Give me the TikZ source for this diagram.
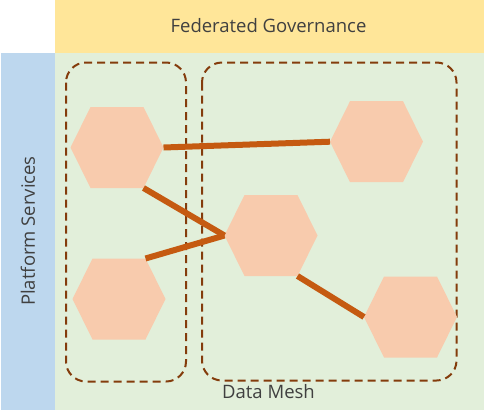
\documentclass[tikz,border=0pt]{standalone}
\usepackage{fontspec}
\setmainfont{Open Sans}
\definecolor{govyellow}{HTML}{FFE699}
\definecolor{platblue}{HTML}{BDD7EE}
\definecolor{meshgreen}{HTML}{E2EFDA}
\definecolor{hexfill}{HTML}{F8CBAD}
\definecolor{linkorange}{HTML}{C55A11}
\definecolor{domainbrown}{HTML}{843C0C}
\definecolor{labelgray}{HTML}{404040}
\tikzset{
  band/.style={draw=none},
  domainbox/.style={draw=domainbrown, line width=2pt, dash pattern=on 8pt off 5pt, rounded corners=20pt},
  hexshape/.style={fill=hexfill, draw=none},
  link/.style={draw=linkorange, line width=6pt},
  bandlabel/.style={text=labelgray, font=\fontsize{18.5}{21}\selectfont, inner sep=0pt},
}
\newcommand{\hexcell}[3]{%
  \coordinate (#1) at (#2,#3);
  \coordinate (#1-l) at (#2-46.5,#3);
  \coordinate (#1-r) at (#2+46.5,#3);
  \coordinate (#1-ur) at (#2+26.5,#3-40.5);
  \coordinate (#1-lr) at (#2+26.5,#3+40.5);
  \coordinate (#1-ul) at (#2-26.5,#3-40.5);
  \coordinate (#1-ll) at (#2-26.5,#3+40.5);
  \fill[hexshape] (#1-l) -- (#1-ul) -- (#1-ur) -- (#1-r) -- (#1-lr) -- (#1-ll) -- cycle;
}
\begin{document}
\begin{tikzpicture}[x=1pt,y=-1pt]
\useasboundingbox (0,0) rectangle (484,418);
% bands
\fill[govyellow, band] (55,0) rectangle (484,53);
\fill[platblue, band] (1,53) rectangle (55,410);
\fill[meshgreen, band] (55,53) rectangle (484,410);
\node[bandlabel] (gov) at (268.5,26) {Federated Governance};
\node[bandlabel, rotate=90] (plat) at (28,231) {Platform Services};
% domain boxes
\draw[domainbox] (66,62.5) rectangle (186,381.5);
\draw[domainbox] (202,62.5) rectangle (456.5,380.5);
\node[bandlabel] (mesh) at (268.5,392) {Data Mesh};
% hexagons
\hexcell{h1}{117}{147.5}
\hexcell{h2}{376.5}{141.7}
\hexcell{h3}{271}{235.5}
\hexcell{h4}{410.5}{317}
\hexcell{h5}{119}{299}
% links
\draw[link] (h1-r) -- (h2-l);
\draw[link] (h1-lr) -- (h3-l);
\draw[link] (h5-ur) -- (h3-l);
\draw[link] (h3-lr) -- (h4-l);
\end{tikzpicture}
\end{document}
